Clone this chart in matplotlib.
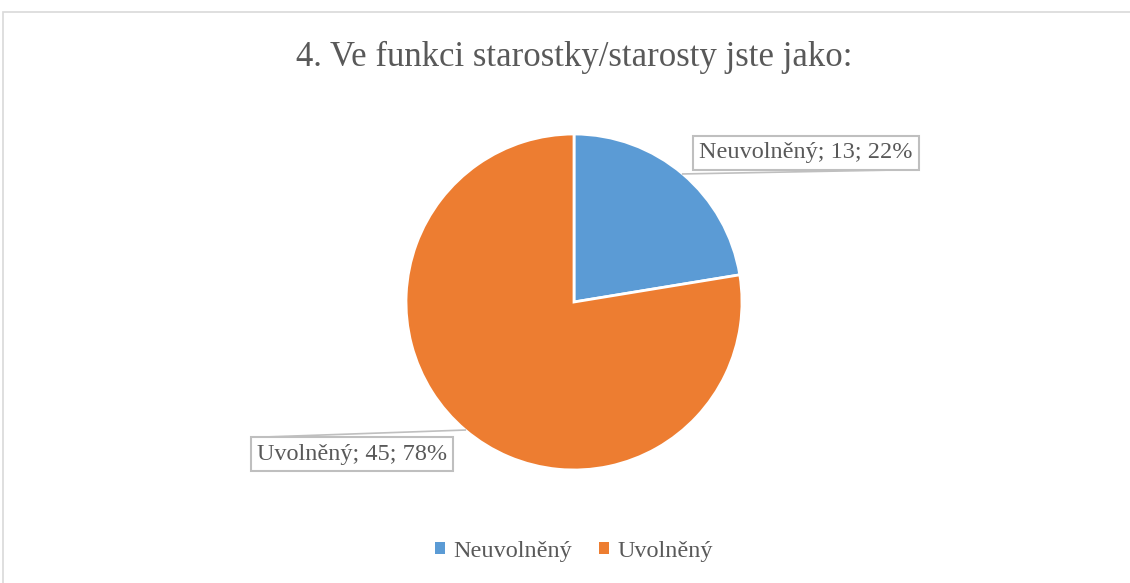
import numpy as np
import matplotlib
matplotlib.use('Agg')
import matplotlib.pyplot as plt
from matplotlib.patches import Rectangle, Patch

# data
categories = ['Neuvolněný', 'Uvolněný']
counts = [13, 45]
colors = ['#5B9BD5', '#ED7D31']
title = '4. Ve funkci starostky/starosty jste jako:'

plt.rcParams['font.family'] = ['Liberation Serif', 'DejaVu Serif']
text_col = '#595959'

W, H = 1130, 583
fig = plt.figure(figsize=(W / 100, H / 100), dpi=100)

# chart border (light gray frame running off right/bottom)
fig.patches.append(Rectangle((3 / W, -0.1), 1.2, 1 - 12 / H + 0.1,
                             transform=fig.transFigure, fill=False,
                             edgecolor='#d9d9d9', linewidth=1.2))

# pie axes: center (574, 302) px, radius 168 px
R = 168.0
k = 1.6
cx, cy = 574.0, H - 302.0
ax = fig.add_axes([(cx - k * R) / W, (cy - k * R) / H, 2 * k * R / W, 2 * k * R / H])

wedges, _ = ax.pie(counts, colors=colors, startangle=90, counterclock=False,
                   radius=1.0, wedgeprops=dict(edgecolor='white', linewidth=2))
ax.set_xlim(-k, k)
ax.set_ylim(-k, k)
ax.set_aspect('equal')
ax.axis('off')

total = sum(counts)
# label box centres (data units)
label_pos = [(1.38, 0.887), (-1.32, -0.905)]
for w, cat, n, (lx, ly) in zip(wedges, categories, counts, label_pos):
    ang = np.deg2rad((w.theta1 + w.theta2) / 2)
    px, py = np.cos(ang), np.sin(ang)
    pct = round(100 * n / total)
    t = ax.text(lx, ly, f'{cat}; {n}; {pct}%', ha='center', va='center',
                fontsize=17.5, color=text_col,
                bbox=dict(boxstyle='square,pad=0.25', facecolor='white',
                          edgecolor='#bfbfbf', linewidth=1.5))
    fig.canvas.draw()
    bb = t.get_bbox_patch().get_window_extent().transformed(ax.transData.inverted())
    if lx > 0:
        ex, ey = bb.x1, bb.y0
    else:
        ex, ey = bb.x0, bb.y1
    ax.plot([px, ex], [py, ey], color='#bfbfbf', linewidth=1.2, zorder=1,
            clip_on=False)

fig.text(cx / W, 1 - 57 / H, title, ha='center', va='center',
         fontsize=25, color=text_col)

handles = [Patch(facecolor=c, edgecolor='none') for c in colors]
fig.legend(handles, categories, loc='center', bbox_to_anchor=(cx / W, 1 - 551 / H),
           ncol=2, frameon=False, fontsize=17.5, handlelength=0.4,
           handleheight=0.4, handletextpad=0.35, columnspacing=1.1,
           labelcolor=text_col)

fig.savefig('out.png', dpi=100)
